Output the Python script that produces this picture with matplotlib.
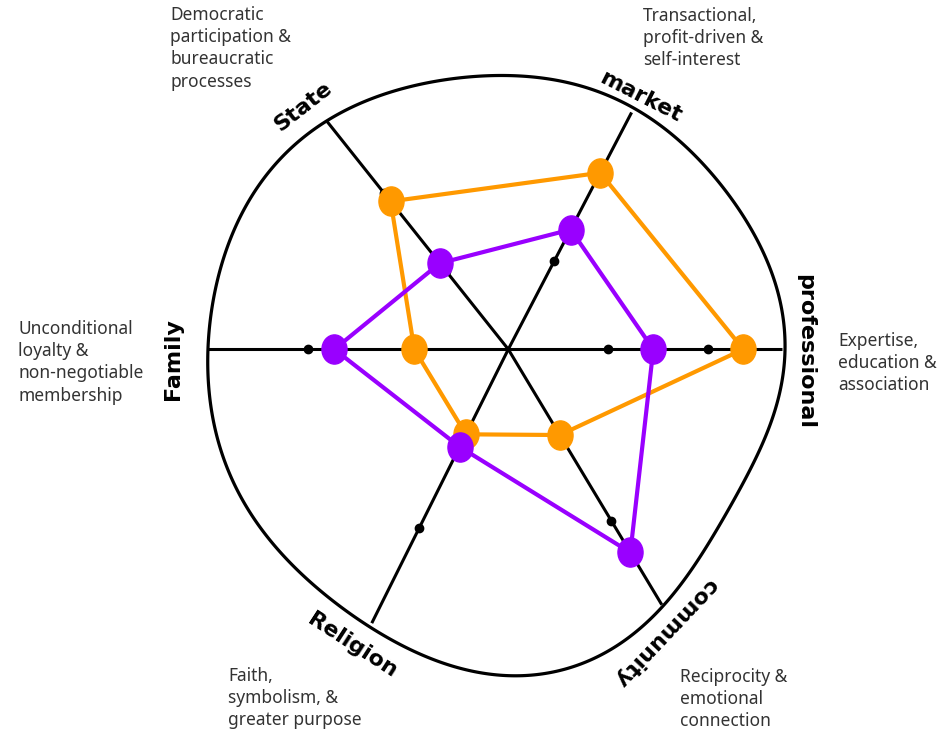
import numpy as np
import matplotlib.pyplot as plt
from matplotlib.path import Path
from matplotlib.patches import Polygon

# Categories and their descriptions
categories = ["professional", "market", "State", "Family", "Religion", "community"]
descriptions = [
    "Expertise,\neducation &\nassociation",
    "Transactional,\nprofit-driven &\nself-interest",
    "Democratic\nparticipation &\nbureaucratic\nprocesses",
    "Unconditional\nloyalty &\nnon-negotiable\nmembership",
    "Faith,\nsymbolism, &\ngreater purpose",
    "Reciprocity &\nemotional\nconnection",
]

# Series values (scale 0-3)
orange_values = [2.35, 1.99, 1.89, 0.94, 0.95, 1.00]
purple_values = [1.45, 1.35, 1.10, 1.74, 1.09, 2.37]
tick_values = [1, 2]

# Layout (hand drawn spokes are not exactly 60 degrees apart)
spoke_angles = [0, 62.5, 128.5, 180, 243.5, 301]
spoke_lengths = [2.74, 2.67, 2.91, 3.01, 3.06, 2.98]

# Center of the chart in pixels
CX, CY = 508.3, 349.3
W, H = 951, 734

# Hand drawn outline, pixel points going clockwise
outline_px = [
    (500, 72), (567, 83), (629, 112), (700, 153), (753, 230), (773, 287),
    (782, 350), (783, 390), (763, 450), (717, 527), (655, 609), (607, 650),
    (573, 672), (533, 679), (440, 657), (368, 621), (290, 573), (257, 523),
    (223, 440), (207, 350), (223, 250), (273, 170), (325, 123), (410, 87),
]

# Label positions (pixel centres) and rotations
label_px = [(805, 352), (641, 97), (303, 107), (173, 359), (352, 645), (665, 633)]
label_rot = [-90, -27, 38, 90, -33, -133.5]
desc_px = [(838, 332), (643, 7), (170, 6), (18, 320), (228, 667), (680, 668)]

ORANGE = "#ff9900"
PURPLE = "#9900ff"


def to_data(px, py):
    return (px - CX) / 100.0, (CY - py) / 100.0


def smooth_outline(points, harmonics=5, n=720):
    # least squares fit of r(theta) with a short Fourier series
    pts = np.array(points, dtype=float)
    th = np.arctan2(pts[:, 1], pts[:, 0])
    r = np.hypot(pts[:, 0], pts[:, 1])

    def basis(t):
        cols = [np.ones_like(t)]
        for k in range(1, harmonics + 1):
            cols += [np.cos(k * t), np.sin(k * t)]
        return np.column_stack(cols)

    coef, *_ = np.linalg.lstsq(basis(th), r, rcond=None)
    t = np.linspace(-np.pi, np.pi, n, endpoint=False)
    rr = basis(t) @ coef
    return np.column_stack([rr * np.cos(t), rr * np.sin(t)])


fig = plt.figure(figsize=(W / 100, H / 100), dpi=100)
ax = fig.add_axes([0, 0, 1, 1])
ax.set_xlim(-CX / 100, (W - CX) / 100)
ax.set_ylim(-(H - CY) / 100, CY / 100)
ax.axis("off")

# outline
outline = smooth_outline([to_data(x, y) for x, y in outline_px])
ax.add_patch(Polygon(outline, closed=True, fill=False, edgecolor="black",
                     lw=2.3, joinstyle="round", zorder=2))

ang = np.radians(spoke_angles)

# spokes and tick dots
for a, L in zip(ang, spoke_lengths):
    ax.plot([0, L * np.cos(a)], [0, L * np.sin(a)], color="black", lw=2.2,
            solid_capstyle="butt", zorder=2)
    for t in tick_values:
        ax.plot(t * np.cos(a), t * np.sin(a), "o", color="black", ms=6, zorder=3)

# ellipse marker
circ = Path.unit_circle()
ellipse = Path(circ.vertices * [0.86, 1.0], circ.codes)


def draw_series(values, color, z):
    v = np.array(values + values[:1])
    a = np.append(ang, ang[0])
    ax.plot(v * np.cos(a), v * np.sin(a), color=color, lw=3, zorder=z)
    ax.plot(v[:-1] * np.cos(ang), v[:-1] * np.sin(ang), linestyle="none",
            marker=ellipse, ms=21, color=color, zorder=z + 0.5)


draw_series(orange_values, ORANGE, 4)
draw_series(purple_values, PURPLE, 6)

# category labels
for name, (px, py), rot in zip(categories, label_px, label_rot):
    x, y = to_data(px, py)
    ax.text(x, y, name, rotation=rot, ha="center", va="center",
            rotation_mode="anchor", fontsize=16, fontweight="bold",
            color="black", family="DejaVu Sans")

# descriptions
for text, (px, py) in zip(descriptions, desc_px):
    fig.text(px / W, 1 - py / H, text, ha="left", va="top", fontsize=12.5,
             color="#333333", family="Noto Sans", linespacing=1.3)

fig.savefig("out.png", dpi=100)
